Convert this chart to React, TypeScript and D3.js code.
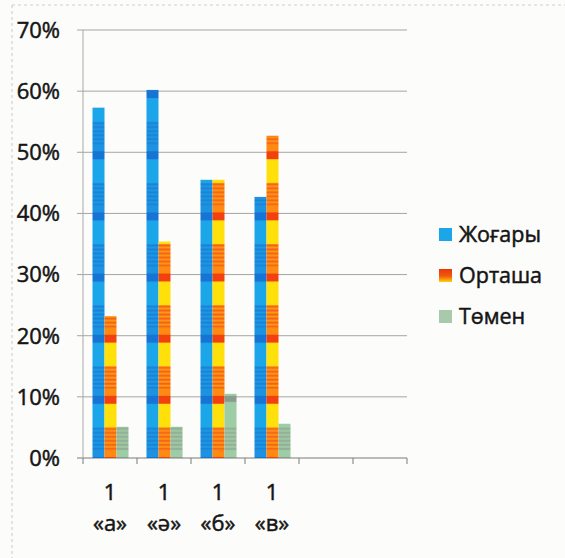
import React from "react";
import * as d3 from "d3";

const categories = ["1\n«а»", "1\n«ә»", "1\n«б»", "1\n«в»", "", ""];
const seriesNames = ["Жоғары", "Орташа", "Төмен"];
const zhogary = [0.573, 0.602, 0.455, 0.427];
const ortasha = [0.232, 0.354, 0.455, 0.527];
const tomen = [0.051, 0.051, 0.105, 0.056];
const yTicks = [0, 0.1, 0.2, 0.3, 0.4, 0.5, 0.6, 0.7];

const W = 565;
const H = 558;

export default function App() {
  const x = d3.scaleBand<string>().domain(categories.map((c, i) => String(i))).range([83, 407]).padding(0);
  const inner = d3.scaleBand<string>().domain(["0", "1", "2"]).range([9.5, 45.5]).padding(0);
  const y = d3.scaleLinear().domain([0, 0.7]).range([458, 30]);
  const period = y(0) - y(0.1);
  const pY = y(0.1) - 1;
  const series = [zhogary, ortasha, tomen];
  const fills = ["url(#pBlue)", "url(#pOrange)", "url(#pGreen)"];
  const font = "'Open Sans', 'Noto Sans', sans-serif";
  const textStyle = { stroke: "#151515", strokeWidth: 0.5 };

  const stripeLines = (y0: number, h: number, color: string, step: number) => {
    const out: JSX.Element[] = [];
    for (let s = y0; s < y0 + h; s += step) {
      out.push(<rect key={s} x={0} y={s} width={200} height={step / 2} fill={color} />);
    }
    return out;
  };

  return (
    <svg width={W} height={H} style={{ position: "absolute", left: 0, top: 0 }}>
      <defs>
        <pattern id="pOrange" patternUnits="userSpaceOnUse" x={0} y={pY} width={200} height={period}>
          <rect x={0} y={0} width={200} height={period} fill="#ffd60a" />
          <rect x={0} y={0} width={200} height={8} fill="#f2400e" />
          <rect x={0} y={8} width={200} height={24} fill="#ffe00a" />
          <rect x={0} y={32} width={200} height={22} fill="#ff9a10" />
          {stripeLines(32, 22, "#f5601a", 4)}
          <rect x={0} y={54} width={200} height={period - 54} fill="#ff8a12" />
        </pattern>
        <pattern id="pBlue" patternUnits="userSpaceOnUse" x={0} y={pY} width={200} height={period}>
          <rect x={0} y={0} width={200} height={period} fill="#1ba6ea" />
          <rect x={0} y={0} width={200} height={8} fill="#1674d4" />
          <rect x={0} y={32} width={200} height={22} fill="#1b9ae4" />
          {stripeLines(32, 22, "#1a80d8", 4)}
          <rect x={0} y={54} width={200} height={period - 54} fill="#1c92e0" />
        </pattern>
        <pattern id="pGreen" patternUnits="userSpaceOnUse" x={0} y={pY} width={200} height={period}>
          <rect x={0} y={0} width={200} height={period} fill="#9ccda5" />
          <rect x={0} y={0} width={200} height={6} fill="#8a9a8c" />
          <rect x={0} y={32} width={200} height={22} fill="#a2c9a6" />
          {stripeLines(32, 22, "#8fae94", 4)}
        </pattern>
        <linearGradient id="gLegO" x1="0" y1="0" x2="0" y2="1">
          <stop offset="0" stopColor="#e8380c" />
          <stop offset="0.55" stopColor="#f25a0c" />
          <stop offset="1" stopColor="#ffd20a" />
        </linearGradient>
      </defs>
      <rect x={0} y={0} width={W} height={H} fill="#fcfcfa" />
      <line x1={12} y1={5} x2={W} y2={5} stroke="#cfcfcf" strokeDasharray="3,3" />
      <line x1={12} y1={5} x2={12} y2={H} stroke="#c8c8c8" strokeDasharray="3,3" />

      {yTicks.map((t) => (
        <g key={t}>
          <line x1={77} x2={407} y1={y(t)} y2={y(t)} stroke={t === 0 ? "#7a7a7a" : "#a5a5a5"} strokeWidth={1} />
          <text x={60} y={y(t)} dy="0.36em" textAnchor="end" fontFamily={font} fontSize={22} fill="#151515" style={textStyle}>
            {d3.format(".0%")(t)}
          </text>
        </g>
      ))}
      <line x1={83} x2={83} y1={y(0.7)} y2={y(0)} stroke="#a8a8a8" />
      {categories.map((c, i) => (
        <line key={"t" + i} x1={(x(String(i)) as number)} x2={(x(String(i)) as number)} y1={y(0)} y2={y(0) + 6} stroke="#7a7a7a" />
      ))}
      <line x1={407} x2={407} y1={y(0)} y2={y(0) + 6} stroke="#7a7a7a" />

      {series.map((vals, si) =>
        vals.map((v, ci) => (
          <rect
            key={si + "-" + ci}
            x={(x(String(ci)) as number) + (inner(String(si)) as number)}
            y={y(v)}
            width={inner.bandwidth()}
            height={y(0) - y(v)}
            fill={fills[si]}
          />
        ))
      )}

      {categories.map((c, i) => {
        if (!c) return null;
        const lines = c.split("\n");
        const cx = (x(String(i)) as number) + x.bandwidth() / 2;
        return (
          <text key={"l" + i} x={cx} textAnchor="middle" fontFamily={font} fontSize={22} fill="#151515" style={textStyle}>
            <tspan x={cx} y={500}>{lines[0]}</tspan>
            <tspan x={cx} y={531}>{lines[1]}</tspan>
          </text>
        );
      })}

      {seriesNames.map((n, i) => (
        <g key={n} transform={`translate(439, ${228 + i * 41})`}>
          <rect x={0} y={0} width={13} height={13} fill={i === 0 ? "#1ba6ea" : i === 1 ? "url(#gLegO)" : "#a8c9ab"} />
          <text x={20} y={6.5} dy="0.36em" fontFamily={font} fontSize={21.5} fill="#151515" style={textStyle}>{n}</text>
        </g>
      ))}
    </svg>
  );
}
